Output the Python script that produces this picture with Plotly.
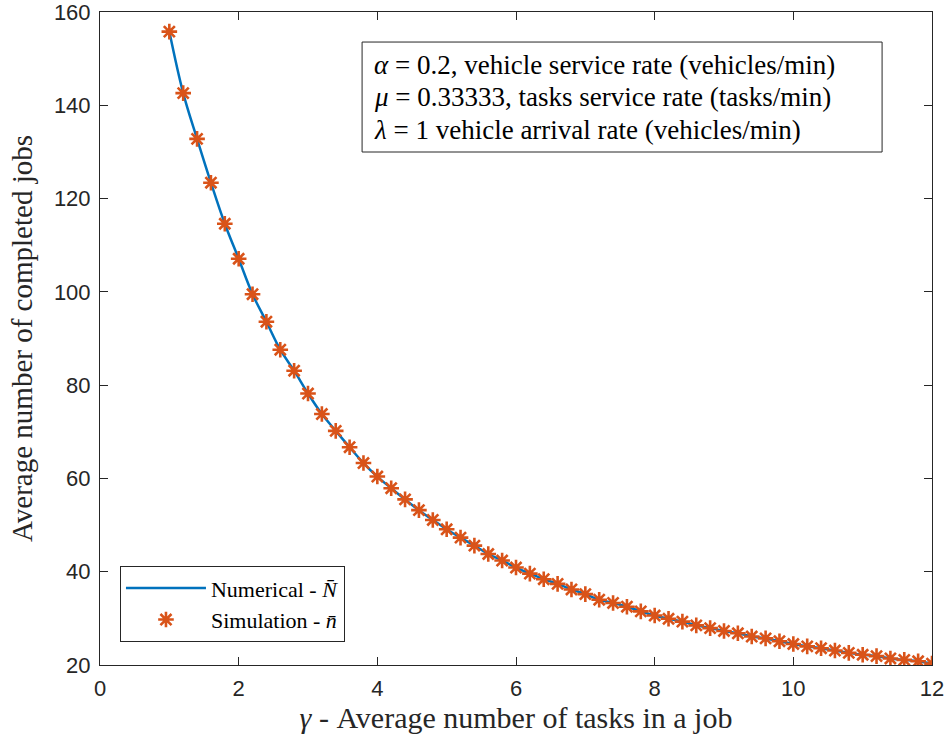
import plotly.graph_objects as go

# Average number of tasks per job (gamma)
gamma = [round(1.0 + 0.2 * i, 1) for i in range(56)]

# Numerical solution, N-bar
numerical = [
    155.8, 142.6, 132.8, 123.4, 114.6, 107.1, 99.5, 93.6, 87.6, 83.1,
    78.2, 73.8, 70.2, 66.7, 63.3, 60.4, 57.9, 55.5, 53.2, 51.1,
    49.1, 47.3, 45.6, 43.8, 42.4, 40.9, 39.6, 38.4, 37.4, 36.2,
    35.2, 34.0, 33.3, 32.5, 31.5, 30.6, 29.9, 29.3, 28.5, 27.9,
    27.3, 26.8, 26.1, 25.7, 25.1, 24.5, 24.0, 23.6, 23.1, 22.6,
    22.2, 21.9, 21.4, 21.1, 20.8, 20.3,
]

# Simulation estimate, n-bar
simulation = [
    155.8, 142.6, 132.8, 123.4, 114.6, 107.1, 99.5, 93.6, 87.6, 83.1,
    78.2, 73.8, 70.2, 66.7, 63.3, 60.4, 57.9, 55.5, 53.2, 51.1,
    49.1, 47.3, 45.6, 43.8, 42.4, 40.9, 39.6, 38.4, 37.4, 36.2,
    35.2, 34.0, 33.3, 32.5, 31.5, 30.6, 29.9, 29.3, 28.5, 27.9,
    27.3, 26.8, 26.1, 25.7, 25.1, 24.5, 24.0, 23.6, 23.1, 22.6,
    22.2, 21.9, 21.4, 21.1, 20.8, 20.3,
]

x_ticks = [0, 2, 4, 6, 8, 10, 12]
y_ticks = [20, 40, 60, 80, 100, 120, 140, 160]

param_lines = [
    "<i>\u03b1</i> = 0.2, vehicle service rate (vehicles/min)",
    "<i>\u03bc</i> = 0.33333, tasks service rate (tasks/min)",
    "<i>\u03bb</i> = 1 vehicle arrival rate (vehicles/min)",
]

SERIF = "Liberation Serif, Times New Roman, serif"
SANS = "Liberation Sans, Arial, sans-serif"
AXIS_COLOR = "#262626"

fig = go.Figure()
fig.add_trace(go.Scatter(
    x=gamma, y=numerical, mode="lines", line_shape="spline",
    name="Numerical - <i>N\u0304</i>", legendgroup="num",
    line=dict(color="#0072BD", width=2.5),
))
fig.add_trace(go.Scatter(
    x=gamma, y=simulation, mode="markers",
    name="Simulation - <i>n\u0304</i>", legendgroup="sim",
    marker=dict(symbol="asterisk-open", size=13,
                line=dict(color="#D95319", width=2.6), color="#D95319"),
))

axis_common = dict(
    showline=True, linecolor=AXIS_COLOR, linewidth=1, mirror="ticks",
    ticks="inside", ticklen=8, tickwidth=1, tickcolor=AXIS_COLOR,
    showgrid=False, zeroline=False, automargin=False,
    ticklabelstandoff=4, ticklabeloverflow="allow",
    tickfont=dict(family=SANS, size=22, color=AXIS_COLOR),
)

fig.update_xaxes(range=[0, 12], tickvals=x_ticks,
                 title=dict(text="<i>\u03b3</i> - Average number of tasks in a job",
                            font=dict(family=SERIF, size=30, color=AXIS_COLOR),
                            standoff=6),
                 **axis_common)
fig.update_yaxes(range=[20, 160], tickvals=y_ticks,
                 title=dict(text="Average number of completed jobs",
                            font=dict(family=SERIF, size=29, color=AXIS_COLOR),
                            standoff=12),
                 **axis_common)

# Parameter box in the upper right
fig.add_shape(type="rect", xref="paper", yref="paper",
              x0=0.315, x1=0.94, y0=0.7856, y1=0.954,
              line=dict(color=AXIS_COLOR, width=1), fillcolor="white", layer="above")
line_y = [0.9188, 0.8698, 0.8193]
for txt, yy in zip(param_lines, line_y):
    fig.add_annotation(
        xref="paper", yref="paper", x=0.327, y=yy, xanchor="left", yanchor="middle",
        align="left", showarrow=False, text=txt,
        font=dict(family=SERIF, size=27, color="black"),
    )

fig.update_layout(
    width=947, height=744,
    margin=dict(l=100, r=15, t=12, b=79),
    paper_bgcolor="white", plot_bgcolor="white",
    legend=dict(x=0.024, y=0.035, xanchor="left", yanchor="bottom",
                bordercolor=AXIS_COLOR, borderwidth=1, bgcolor="white",
                font=dict(family=SERIF, size=22, color="black"),
                traceorder="grouped", tracegroupgap=0, itemwidth=80),
    showlegend=True,
)

fig.write_html("out.html")
